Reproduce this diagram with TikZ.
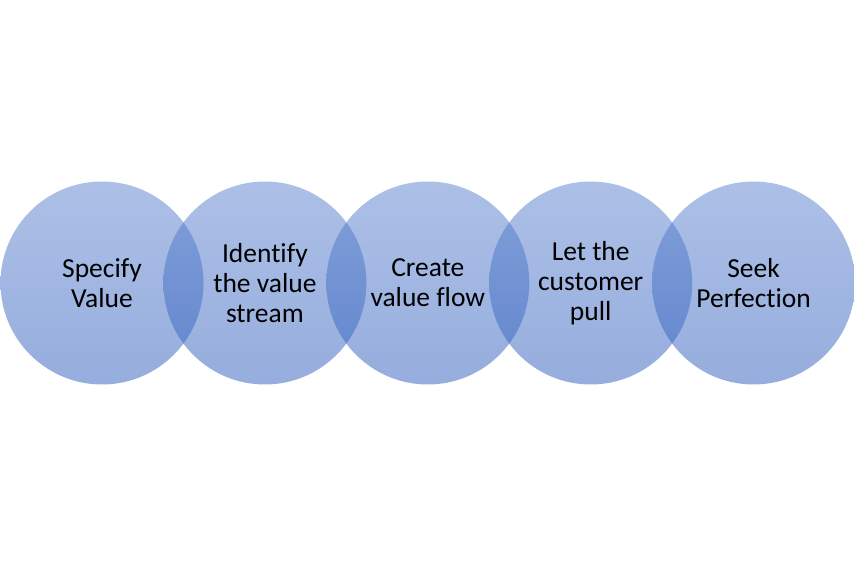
\documentclass[tikz,border=0pt]{standalone}
\usepackage{fontspec}
\setmainfont{Carlito}[Ligatures=NoCommon]
\usetikzlibrary{positioning}

\definecolor{lensTop}{RGB}{90,129,206}
\definecolor{lensBottom}{RGB}{45,92,188}

\begin{document}
\begin{tikzpicture}[x=1pt, y=1pt, node distance=-40.5pt,
  stage/.style={circle, minimum size=203pt, inner sep=0pt, top color=lensTop, bottom color=lensBottom, fill opacity=0.5, text opacity=1, text=black, align=center, font=\fontsize{27.5}{30}\selectfont}]
\useasboundingbox (0,0) rectangle (854,568);

\node[stage] (specify) at (102,285) {Specify\\Value};
\node[stage, right=of specify] (identify) {Identify\\the value\\stream};
\node[stage, right=of identify] (create) {Create\\value flow};
\node[stage, right=of create] (pull) {Let the\\customer\\pull};
\node[stage, right=of pull] (seek) {Seek\\Perfection};

\end{tikzpicture}
\end{document}
